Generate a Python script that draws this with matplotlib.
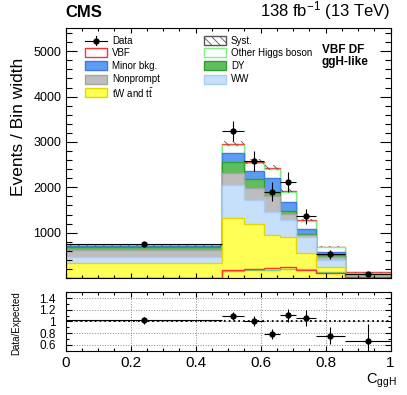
import numpy as np
import matplotlib
matplotlib.use('Agg')
import matplotlib.pyplot as plt
from matplotlib.patches import Rectangle
from matplotlib.lines import Line2D
from matplotlib.ticker import MultipleLocator, FixedLocator, FixedFormatter

plt.rcParams['font.family'] = ['Liberation Sans', 'DejaVu Sans']
plt.rcParams['mathtext.fontset'] = 'custom'
plt.rcParams['mathtext.rm'] = 'Liberation Sans'
plt.rcParams['mathtext.it'] = 'Liberation Sans:italic'
plt.rcParams['hatch.linewidth'] = 0.6

# bin edges of C_ggH
edges = [0.0, 0.48, 0.55, 0.61, 0.66, 0.71, 0.77, 0.86, 1.0]

# stacked expectations (events / bin width), bottom to top
tw_tt       = [324, 1331, 1192, 949, 900, 545, 236, 20]
ww          = [140,  722,  529, 515, 370, 353, 160, 30]
nonprompt   = [160,  258,  259, 346, 150,  60,  70, 15]
dy          = [ 55,  243,  198,  95,  60,  22,  42,  8]
minor_bkg   = [ 25,  205,  183, 295, 200, 100,  59, 15]
other_higgs = [ 14,  180,  180, 205, 215, 180, 110, 30]
vbf         = [  7,   25,   26,  29,  32,  20,  14,  5]

# superimposed signal lines
vbf_line    = [10, 177, 206, 213, 240, 185, 110, 25]
other_line  = [ 8, 150, 180, 185, 205, 195, 140, 30]

data     = [740, 3244, 2589, 1905, 2125, 1362, 523, 82]
data_err = [ 40,  220,  220,  215,  220,  170, 100, 35]

syst_frac = 0.02

layers = [
    (tw_tt,       '#ffff55', '#e6d600'),
    (ww,          '#c6e0fb', '#a9cdf3'),
    (nonprompt,   '#bdbdbd', '#a5a5a5'),
    (dy,          '#5fbf5f', '#2f9f2f'),
    (minor_bkg,   '#5c9df2', '#3b7de3'),
    (other_higgs, 'white',   '#80f080'),
    (vbf,         'white',   '#ff3030'),
]

edges_a = np.array(edges)
centers = 0.5 * (edges_a[1:] + edges_a[:-1])
halfw = 0.5 * (edges_a[1:] - edges_a[:-1])
cum = np.cumsum(np.array([l[0] for l in layers], dtype=float), axis=0)
total = cum[-1]

fig = plt.figure(figsize=(4.07, 3.95), dpi=100)
ax = fig.add_axes([0.161, 0.2962, 0.7985, 0.6337])
rax = fig.add_axes([0.161, 0.1122, 0.7985, 0.1478])

# stack, drawn from the top so lower layers sit on top
for i in reversed(range(len(layers))):
    ax.stairs(cum[i], edges, baseline=0, fill=True,
              facecolor=layers[i][1], edgecolor=layers[i][2], linewidth=1.0)

# systematic band
ax.stairs(total * (1 + syst_frac), edges, baseline=total * (1 - syst_frac),
          fill=True, facecolor='none', edgecolor='#555555', hatch='\\\\\\\\',
          linewidth=0)

ax.stairs(other_line, edges, color='#70e070', linewidth=1.0)
ax.stairs(vbf_line, edges, color='#ff3030', linewidth=1.0)

ax.errorbar(centers, data, xerr=halfw, yerr=data_err, fmt='o', color='black',
            markersize=3.5, elinewidth=0.8, capsize=0)

ax.set_xlim(0, 1)
ax.set_ylim(0, 5520)
ax.xaxis.set_major_locator(MultipleLocator(0.2))
ax.xaxis.set_minor_locator(MultipleLocator(0.05))
ax.yaxis.set_major_locator(MultipleLocator(1000))
ax.yaxis.set_minor_locator(MultipleLocator(200))
ax.set_yticks([1000, 2000, 3000, 4000, 5000])
ax.tick_params(axis='both', which='both', direction='in', top=True, right=True,
               labelsize=9, width=0.8)
ax.tick_params(axis='y', which='major', length=8, pad=3)
ax.tick_params(axis='y', which='minor', length=4.3)
ax.tick_params(axis='x', which='major', length=3.6)
ax.tick_params(axis='x', which='minor', length=2.2)
ax.tick_params(axis='x', labelbottom=False)
ax.set_ylabel('Events / Bin width', fontsize=12.5)
ax.yaxis.set_label_coords(-0.122, 0.605)

# legend drawn by hand
col_x = [0.060, 0.426]
box_w = 0.068
text_dx = 0.083
rows = [0.948, 0.899, 0.847, 0.794, 0.741]
box_h = 0.036
entries = [
    (0, 0, 'Data', 'data', None, None),
    (0, 1, 'VBF', 'box', 'white', '#ff3030'),
    (0, 2, 'Minor bkg.', 'box', '#5c9df2', '#3b7de3'),
    (0, 3, 'Nonprompt', 'box', '#bdbdbd', '#a5a5a5'),
    (0, 4, r'tW and t$\mathrm{\bar{t}}$', 'box', '#ffff55', '#e6d600'),
    (1, 0, 'Syst.', 'hatch', 'white', '#555555'),
    (1, 1, 'Other Higgs boson', 'box', 'white', '#80f080'),
    (1, 2, 'DY', 'box', '#5fbf5f', '#2f9f2f'),
    (1, 3, 'WW', 'box', '#c6e0fb', '#a9cdf3'),
]
for col, row, label, kind, fc, ec in entries:
    x0 = col_x[col]
    yc = rows[row]
    if kind == 'data':
        ax.add_line(Line2D([x0, x0 + box_w], [yc, yc], color='black', lw=0.8,
                           transform=ax.transAxes))
        ax.add_line(Line2D([x0 + box_w / 2] * 2, [yc - 0.018, yc + 0.018],
                           color='black', lw=0.8, transform=ax.transAxes))
        ax.plot([x0 + box_w / 2], [yc], 'o', color='black', markersize=3.5,
                transform=ax.transAxes)
    else:
        ax.add_patch(Rectangle((x0, yc - box_h / 2), box_w, box_h,
                               transform=ax.transAxes, facecolor=fc,
                               edgecolor=ec, lw=1.0,
                               hatch='\\\\\\\\' if kind == 'hatch' else None))
    ax.text(x0 + text_dx, yc, label, transform=ax.transAxes, fontsize=7,
            va='center', ha='left')

ax.text(0.789, 0.898, 'VBF DF', transform=ax.transAxes, fontsize=8.5,
        weight='bold', va='baseline')
ax.text(0.789, 0.851, 'ggH-like', transform=ax.transAxes, fontsize=8.5,
        weight='bold', va='baseline')

fig.text(0.160, 0.958, 'CMS', fontsize=12, weight='bold', va='baseline')
fig.text(0.958, 0.958, r'138 fb$^{\mathregular{-1}}$ (13 TeV)', fontsize=12,
         ha='right', va='baseline')

# ratio panel
ratio = np.array(data) / total
ratio_err = np.array(data_err) / total
rax.grid(True, which='major', color='#888888', linestyle=':', linewidth=0.7)
rax.axhline(1.0, color='black', linestyle=':', linewidth=1.3)
rax.errorbar(centers, ratio, xerr=halfw, yerr=ratio_err, fmt='o',
             color='black', markersize=3.5, elinewidth=0.8, capsize=0)
rax.set_xlim(0, 1)
rax.set_ylim(0.5, 1.5)
rax.xaxis.set_major_locator(MultipleLocator(0.2))
rax.xaxis.set_minor_locator(MultipleLocator(0.05))
rax.yaxis.set_major_locator(FixedLocator([0.6, 0.8, 1.0, 1.2, 1.4]))
rax.yaxis.set_major_formatter(FixedFormatter(['0.6', '0.8', '1', '1.2', '1.4']))
rax.yaxis.set_minor_locator(MultipleLocator(0.1))
rax.set_xticks([0, 0.2, 0.4, 0.6, 0.8, 1.0])
rax.set_xticklabels(['0', '0.2', '0.4', '0.6', '0.8', '1'])
rax.tick_params(axis='both', which='both', direction='in', top=True, right=True,
                width=0.8)
rax.tick_params(axis='y', which='major', length=4.5, labelsize=8.5, pad=7)
rax.tick_params(axis='y', which='minor', length=2.2)
rax.tick_params(axis='x', which='major', length=3.6, labelsize=11, pad=3.5)
rax.tick_params(axis='x', which='minor', length=2.2)
rax.set_ylabel('Data/Expected', fontsize=7)
rax.yaxis.set_label_coords(-0.137, 0.47)

fig.text(0.975, 0.030, r'C$_{\mathregular{ggH}}$', fontsize=10.5, ha='right',
         va='baseline')

fig.savefig('out.png', dpi=100)
